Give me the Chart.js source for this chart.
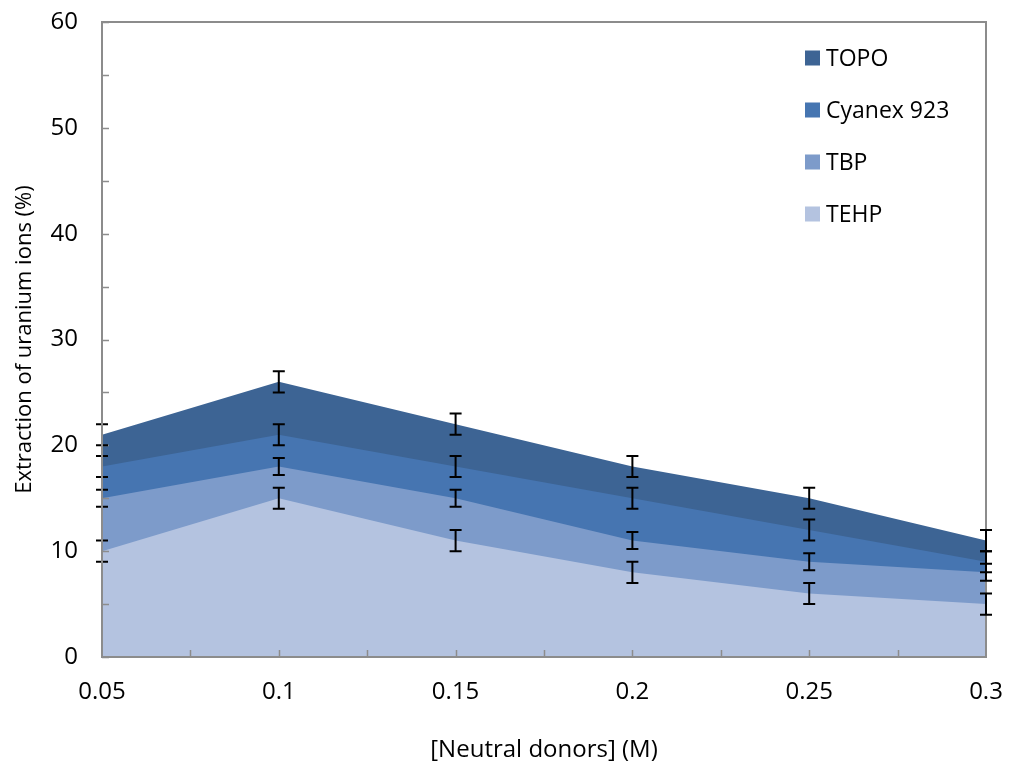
<!DOCTYPE html>
<html>
<head>
<meta charset="utf-8">
<script src="https://cdn.jsdelivr.net/npm/chart.js@4.4.1/dist/chart.umd.min.js"></script>
<style>
  html, body { margin: 0; padding: 0; background: #fff; }
  #wrap { width: 1011px; height: 771px; }
</style>
</head>
<body>
<div id="wrap"><canvas id="grafico"></canvas></div>
<script>
// Concentração dos doadores neutros (M)
const concentracoes = [0.05, 0.1, 0.15, 0.2, 0.25, 0.3];

// Extração de urânio (%) para cada extratante
const topo   = [21, 26, 22, 18, 15, 11];
const cyanex = [18, 21, 18, 15, 12, 9];
const tbp    = [15, 18, 15, 11, 9, 8];
const tehp   = [10, 15, 11, 8, 6, 5];

// Barras de erro (±)
const erroTopo   = [1, 1, 1, 1, 1, 1];
const erroCyanex = [1, 1, 1, 1, 1, 1];
const erroTbp    = [0.8, 0.8, 0.8, 0.8, 0.8, 0.8];
const erroTehp   = [1, 1, 1, 1, 1, 1];

const fonte = "'Open Sans', sans-serif";
const corEixo = '#8c8c8c';

function pontos(valores) {
    return valores.map((v, i) => ({ x: concentracoes[i], y: v }));
}

function serie(label, valores, erros, cor, ordem) {
    return {
        label: label,
        data: pontos(valores),
        erros: erros,
        backgroundColor: cor,
        borderColor: cor,
        borderWidth: 0,
        pointRadius: 0,
        fill: 'origin',
        tension: 0,
        order: ordem
    };
}

// Moldura, marcas internas dos eixos, barras de erro e legenda
const extras = {
    id: 'extras',
    afterDatasetsDraw(chart) {
        const ctx = chart.ctx;
        const area = chart.chartArea;
        const sx = chart.scales.x;
        const sy = chart.scales.y;

        ctx.save();
        ctx.strokeStyle = corEixo;
        ctx.lineWidth = 2;
        ctx.strokeRect(area.left, area.top, area.right - area.left, area.bottom - area.top);

        // marcas menores para dentro
        ctx.lineWidth = 1.5;
        ctx.beginPath();
        for (let v = 0; v <= 60; v += 5) {
            const py = Math.round(sy.getPixelForValue(v)) + 0.5;
            ctx.moveTo(area.left, py);
            ctx.lineTo(area.left + 7, py);
        }
        for (let k = 1; k < 10; k++) {
            const px = Math.round(sx.getPixelForValue(0.05 + k * 0.025)) + 0.5;
            ctx.moveTo(px, area.bottom);
            ctx.lineTo(px, area.bottom - 7);
        }
        ctx.stroke();

        // barras de erro
        ctx.strokeStyle = '#000';
        ctx.lineWidth = 2;
        chart.data.datasets.forEach(ds => {
            ds.data.forEach((p, i) => {
                const e = ds.erros[i];
                const px = sx.getPixelForValue(p.x);
                const y1 = sy.getPixelForValue(p.y + e);
                const y2 = sy.getPixelForValue(p.y - e);
                ctx.beginPath();
                ctx.moveTo(px, y1);
                ctx.lineTo(px, y2);
                ctx.moveTo(px - 6, y1);
                ctx.lineTo(px + 6, y1);
                ctx.moveTo(px - 6, y2);
                ctx.lineTo(px + 6, y2);
                ctx.stroke();
            });
        });

        // eixo vertical por cima das barras
        ctx.strokeStyle = corEixo;
        ctx.lineWidth = 2;
        ctx.beginPath();
        ctx.moveTo(area.left, area.top);
        ctx.lineTo(area.left, area.bottom);
        ctx.stroke();

        // legenda
        const ordemLegenda = ['TOPO', 'Cyanex 923', 'TBP', 'TEHP'];
        ctx.font = '23px ' + fonte;
        ctx.textBaseline = 'middle';
        ctx.textAlign = 'left';
        ordemLegenda.forEach((nome, i) => {
            const ds = chart.data.datasets.find(d => d.label === nome);
            const cy = area.top + 36 + i * 52;
            ctx.fillStyle = ds.backgroundColor;
            ctx.fillRect(area.right - 181, cy - 7.5, 15, 15);
            ctx.fillStyle = '#000';
            ctx.fillText(nome, area.right - 160, cy + 1);
        });
        ctx.restore();
    }
};

const ctx = document.getElementById('grafico').getContext('2d');
new Chart(ctx, {
    type: 'line',
    data: {
        datasets: [
            serie('TEHP', tehp, erroTehp, '#b4c3e0', 1),
            serie('TBP', tbp, erroTbp, '#7d9bca', 2),
            serie('Cyanex 923', cyanex, erroCyanex, '#4675b1', 3),
            serie('TOPO', topo, erroTopo, '#3d6494', 4)
        ]
    },
    options: {
        responsive: true,
        maintainAspectRatio: false,
        animation: false,
        layout: { padding: { top: 22, right: 25, left: 0, bottom: 0 } },
        plugins: {
            legend: { display: false },
            tooltip: { enabled: false }
        },
        scales: {
            x: {
                type: 'linear',
                min: 0.05,
                max: 0.3,
                afterFit: s => {
                    s.height = 114;
                    s.paddingLeft = 0;
                    s.paddingRight = 0;
                },
                border: { display: false },
                grid: { display: false, drawTicks: false },
                ticks: {
                    stepSize: 0.05,
                    padding: 21,
                    color: '#000',
                    font: { family: fonte, size: 24 },
                    callback: v => String(Number(v.toFixed(2)))
                },
                title: {
                    display: true,
                    text: '[Neutral donors] (M)',
                    color: '#000',
                    font: { family: fonte, size: 24 },
                    padding: { top: 0, bottom: 6 }
                }
            },
            y: {
                min: 0,
                max: 60,
                afterFit: s => {
                    s.width = 102;
                    s.paddingTop = 0;
                    s.paddingBottom = 0;
                },
                border: { display: false },
                grid: { display: false, drawTicks: false },
                ticks: {
                    stepSize: 10,
                    padding: 24,
                    color: '#000',
                    font: { family: fonte, size: 24 }
                },
                title: {
                    display: true,
                    text: 'Extraction of uranium ions (%)',
                    color: '#000',
                    font: { family: fonte, size: 22 },
                    padding: { top: 12, bottom: 0 }
                }
            }
        }
    },
    plugins: [extras]
});
</script>
</body>
</html>
